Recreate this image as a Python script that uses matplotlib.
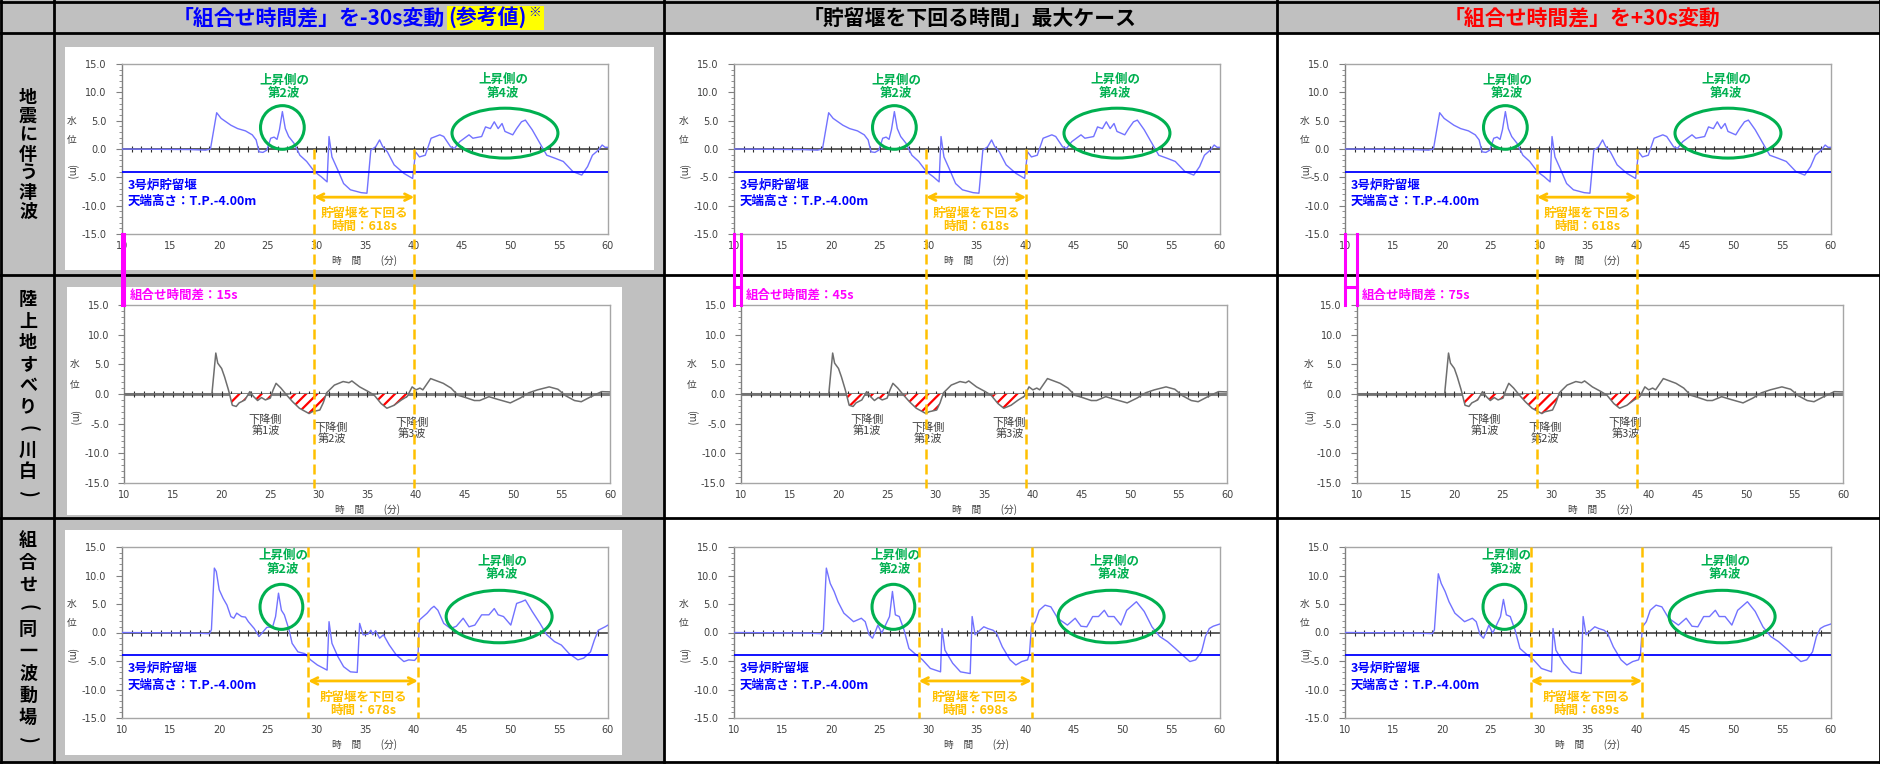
import numpy as np
import matplotlib
matplotlib.use("Agg")
import matplotlib.pyplot as plt
from matplotlib.patches import Ellipse, Rectangle
from matplotlib.transforms import offset_copy, blended_transform_factory

plt.rcParams['font.family'] = ['Noto Sans CJK JP', 'DejaVu Sans']
plt.rcParams['axes.unicode_minus'] = False
plt.rcParams['hatch.color'] = '#FF0000'
plt.rcParams['hatch.linewidth'] = 1.6

# ---------------- data (time in min, water level in m) ----------------
col_titles = ['「組合せ時間差」を-30s変動', '「貯留堰を下回る時間」最大ケース', '「組合せ時間差」を+30s変動']
row_titles = ['地震に伴う津波', '陸上地すべり(川白)', '組合せ(同一波動場)']

# earthquake tsunami (same in every column)
quake_t = [10, 17.0, 18.6, 19.1, 19.74, 20.2, 21.2, 21.9, 22.7, 23.4, 23.8, 24.1, 24.5, 24.9, 25.3, 25.65,
           25.95, 26.2, 26.5, 26.8, 27.15, 27.7, 28.3, 29.0, 29.8, 30.5, 31.1, 31.3, 31.6, 32.2, 32.8, 33.5,
           34.6, 35.2, 35.6, 36.1, 36.5, 36.8, 37.3, 38.0, 39.0, 39.9, 40.2, 40.6, 41.2, 41.8, 42.7, 43.1,
           43.8, 44.2, 44.75, 45.7, 46.1, 47.0, 47.4, 47.9, 48.3, 48.7, 49.1, 49.4, 50.2, 50.6, 51.1, 51.5,
           52.2, 53.0, 53.7, 54.5, 55.4, 56.4, 57.3, 57.9, 58.4, 59.0, 59.4, 59.7, 60]
quake_h = [0, -0.1, -0.2, 0.0, 6.4, 5.4, 4.2, 3.6, 3.2, 2.5, 1.6, -0.5, -0.6, -0.2, 1.9, 2.1,
           1.7, 3.4, 6.6, 3.6, 2.2, 1.0, -1.1, -2.2, -4.0, -4.9, -5.8, 2.2, -1.4, -3.7, -6.1, -7.2,
           -7.7, -7.8, -0.2, 0.4, 1.6, 0.5, -0.5, -2.8, -4.3, -5.2, -0.5, -1.4, -1.1, 1.9, 2.5, 2.2,
           0.4, 0.1, 1.3, 2.5, 1.9, 2.2, 3.9, 3.6, 4.8, 3.6, 4.5, 3.1, 2.5, 3.6, 4.8, 5.1,
           3.4, 1.0, -1.1, -1.6, -2.2, -4.0, -4.6, -3.1, -1.1, -0.2, 0.7, 0.3, 0.3]

# landslide (Kawashiro) tsunami
slide_t = [10, 19.0, 19.4, 19.6, 20.0, 20.3, 20.7, 21.1, 21.5, 21.8, 22.4, 22.9, 23.3, 23.7, 24.1, 24.5,
           25.0, 25.3, 25.6, 26.1, 26.7, 27.3, 28.0, 29.0, 29.3, 30.1, 30.45, 30.8, 31.6, 32.5, 33.1, 33.4,
           34.2, 35.1, 35.7, 36.4, 37.0, 37.75, 38.5, 39.1, 39.6, 40.0, 40.4, 40.7, 41.5, 42.8, 43.6, 44.3,
           45.1, 46.0, 46.55, 47.5, 48.4, 49.7, 50.7, 51.6, 52.5, 53.7, 54.6, 55.4, 56.3, 57.0, 58.0, 59.1, 60]
slide_h = [0, 0, 6.9, 5.2, 4.3, 2.9, 0.7, -1.9, -2.1, -1.5, -1.0, 0.4, -0.45, -1.1, -0.6, -1.0,
           -0.7, 0.7, 1.8, 1.0, -0.2, -1.3, -2.4, -3.3, -3.0, -2.7, -1.5, 0.2, 1.5, 2.1, 1.9, 2.2,
           1.2, 0.4, -0.2, -1.6, -2.4, -1.9, -1.0, -0.4, 1.2, 0.7, 1.0, 0.7, 2.6, 1.8, 1.0, -0.2,
           -0.6, -1.1, -1.1, -0.45, -0.9, -1.5, -0.7, 0.2, 0.7, 1.2, 0.8, -0.3, -1.1, -1.3, -0.45, 0.4, 0.35]
slide_waves = [(21.0, 25.2), (27.0, 30.8), (35.9, 39.2)]

# combined wave field, one run per time lag case
comb_a_t = [10, 17.5, 19.0, 19.2, 19.5, 19.7, 20.0, 20.4, 20.8, 21.2, 21.5, 21.8, 22.3, 22.7, 23.0, 23.6,
            24.1, 24.5, 24.9, 25.5, 25.8, 26.1, 26.4, 26.7, 27.2, 27.5, 28.1, 28.8, 29.4, 30.1, 31.1, 31.3,
            31.6, 32.2, 32.8, 33.5, 34.2, 34.45, 34.8, 35.3, 35.6, 35.8, 36.1, 36.5, 36.9, 37.5, 38.2, 39.0,
            39.5, 40.1, 40.45, 40.6, 41.0, 41.4, 41.8, 42.1, 42.5, 43.1, 43.8, 44.4, 45.1, 45.7, 46.3, 47.0,
            47.75, 48.3, 48.7, 49.25, 50.0, 50.6, 51.1, 51.5, 52.2, 53.0, 53.7, 54.5, 55.2, 56.0, 56.9, 57.5,
            58.2, 58.6, 59.0, 59.7, 60]
comb_a_h = [0, -0.1, -0.2, 0.5, 11.3, 10.7, 7.5, 6.0, 4.8, 2.8, 2.5, 3.4, 2.8, 2.7, 1.9, 0.7,
            -0.7, 0.1, 0.9, 1.0, 2.8, 6.9, 3.9, 3.1, 0.4, -1.9, -3.4, -3.7, -4.8, -5.7, -6.6, 1.9,
            -1.9, -4.2, -6.0, -6.9, -7.0, 1.6, -0.4, -0.3, 0.4, -0.4, 0.3, -1.0, -0.4, -2.2, -3.9, -5.1,
            -4.8, -4.9, -4.2, 2.2, 2.8, 3.4, 4.2, 4.6, 3.9, 1.6, 0.7, 1.1, 2.5, 1.0, 1.3, 3.1,
            3.1, 4.2, 3.1, 2.8, 1.3, 5.1, 5.4, 5.7, 3.7, 1.6, -0.4, -1.6, -2.2, -3.7, -4.8, -4.5,
            -3.4, -1.3, 0.4, 1.0, 1.3]

comb_b_t = [10, 17.5, 19.0, 19.2, 19.5, 19.9, 20.3, 20.7, 21.3, 21.9, 22.3, 22.7, 23.1, 23.5, 23.9, 24.25,
            24.6, 24.8, 25.2, 26.0, 26.3, 26.6, 27.0, 27.5, 28.0, 28.6, 29.4, 30.2, 30.9, 31.25, 31.4, 31.7,
            32.5, 33.3, 34.3, 34.5, 34.8, 35.3, 35.7, 36.1, 36.65, 37.0, 37.6, 38.4, 39.0, 39.6, 40.2, 40.4,
            40.6, 41.0, 41.4, 42.0, 42.6, 43.3, 44.3, 45.1, 45.7, 46.3, 46.9, 47.5, 48.1, 48.5, 49.1, 49.8,
            50.4, 51.0, 51.4, 52.2, 53.0, 53.8, 54.6, 55.4, 56.1, 56.9, 57.5, 58.1, 58.5, 58.9, 59.3, 60]
comb_b_h = [0, -0.1, -0.2, 0.5, 11.3, 8.6, 7.2, 5.4, 3.4, 2.5, 1.9, 2.2, 2.5, 1.9, -0.4, -1.0,
            0.4, 1.3, -0.1, 2.8, 7.2, 3.1, 2.8, 0.4, -2.8, -3.7, -4.8, -6.3, -6.7, -6.9, 0.7, -3.1,
            -5.4, -6.9, -7.2, 2.8, -0.4, 0.4, 1.0, 0.7, 0.4, -0.1, -2.5, -4.8, -5.7, -5.1, -4.8, -3.7,
            1.0, 1.9, 3.9, 4.8, 4.5, 2.5, 1.3, 2.5, 1.1, 1.0, 2.8, 2.8, 3.9, 2.8, 2.8, 1.3,
            3.9, 4.8, 5.4, 3.7, 1.0, -0.7, -1.6, -2.8, -3.9, -5.1, -4.8, -3.4, -0.7, 0.7, 1.1, 1.5]

comb_c_t = [10, 17.5, 19.0, 19.2, 19.6, 19.9, 20.3, 20.7, 21.3, 21.9, 22.3, 22.7, 23.1, 23.5, 23.9, 24.25,
            24.6, 24.8, 25.2, 26.0, 26.3, 26.6, 27.0, 27.5, 28.0, 28.6, 29.4, 30.2, 30.9, 31.25, 31.4, 31.7,
            32.5, 33.3, 34.3, 34.5, 34.8, 35.3, 35.7, 36.1, 36.65, 37.0, 37.6, 38.4, 39.0, 39.6, 40.2, 40.4,
            40.6, 41.0, 41.4, 42.0, 42.6, 43.3, 44.3, 45.1, 45.7, 46.3, 46.9, 47.5, 48.1, 48.5, 49.1, 49.8,
            50.4, 51.0, 51.4, 52.2, 53.0, 53.8, 54.6, 55.4, 56.1, 56.9, 57.5, 58.1, 58.5, 58.9, 59.3, 60]
comb_c_h = [0, -0.1, -0.2, 0.5, 10.3, 8.6, 7.2, 5.4, 3.4, 2.5, 1.9, 2.2, 2.5, 1.9, -0.4, -1.0,
            0.4, 1.3, -0.1, 2.8, 5.8, 3.1, 2.8, 0.4, -2.8, -3.7, -4.8, -6.3, -6.7, -6.9, 0.7, -3.1,
            -5.4, -6.9, -7.2, 2.8, -0.4, 0.4, 1.0, 0.7, 0.4, -0.1, -2.5, -4.8, -5.7, -5.1, -4.8, -3.7,
            1.0, 1.9, 3.9, 4.8, 4.5, 2.5, 1.3, 2.5, 1.1, 1.0, 2.8, 2.8, 3.9, 2.8, 2.8, 1.3,
            3.9, 4.8, 5.4, 3.7, 1.0, -0.7, -1.6, -2.8, -3.9, -5.1, -4.8, -3.4, -0.7, 0.7, 1.1, 1.5]

comb_series = [(comb_a_t, comb_a_h), (comb_b_t, comb_b_h), (comb_c_t, comb_c_h)]

lag_sec = [15, 45, 75]                 # 組合せ時間差
quake_start = 29.77                   # level first drops below the weir crest
quake_below_sec = 618
comb_start = [29.15, 29.0, 29.1]
comb_below_sec = [678, 698, 689]
weir_crest = -4.0                     # T.P.-4.00m

# ---------------- styling ----------------
W, H = 1881, 764
GRAY = '#C0C0C0'
LINE_BLUE = '#7272FF'
ORANGE = '#FFC000'
GREEN = '#00B050'
MAGENTA = '#FF00FF'
TXT = '#404040'

COL_LEFT = [122, 734, 1345]
AX_W = 486
ROW1 = (64, 234)
ROW2 = (305, 483)
ROW3 = (547, 718)
PX_PER_M1 = (ROW1[1] - ROW1[0]) / 30.0

fig = plt.figure(figsize=(W / 100, H / 100), dpi=100)
renderer = fig.canvas.get_renderer()

bg = fig.add_axes([0, 0, 1, 1])
bg.set_xlim(0, W)
bg.set_ylim(H, 0)
bg.axis('off')
bg.set_zorder(-1)

bg.add_patch(Rectangle((0, 0), W, 33, fc=GRAY, ec='none'))
bg.add_patch(Rectangle((0, 0), 54, H, fc=GRAY, ec='none'))
bg.add_patch(Rectangle((54, 33), 610, H - 33, fc=GRAY, ec='none'))
for x0, y0, x1, y1 in [(65, 47, 654, 270), (67, 287, 622, 515), (65, 530, 622, 755)]:
    bg.add_patch(Rectangle((x0, y0), x1 - x0, y1 - y0, fc='white', ec='none'))
for y in [2, 33, 275, 518, 762]:
    bg.plot([0, W], [y, y], color='black', lw=2)
for x in [1, 54, 664, 1277, 1880]:
    bg.plot([x, x], [0, H], color='black', lw=2)

# column headers; the first one is built from three pieces and centred as a group
h_main = bg.text(0, 18, col_titles[0], color='#0000FF', fontsize=15, fontweight='bold', ha='left', va='center')
h_box = bg.text(0, 18, '(参考値)', color='#0000FF', fontsize=15, fontweight='bold', ha='left', va='center')
h_note = bg.text(0, 12, '※', color='#0000FF', fontsize=9, fontweight='bold', ha='left', va='center')
w_main = h_main.get_window_extent(renderer).width
w_box = h_box.get_window_extent(renderer).width
w_note = h_note.get_window_extent(renderer).width
x_start = 359 - (w_main + 4 + w_box + w_note + 6) / 2
h_main.set_x(x_start)
h_box.set_x(x_start + w_main + 4)
h_note.set_x(x_start + w_main + 4 + w_box + 1)
bg.add_patch(Rectangle((x_start + w_main + 2, 6), w_box + w_note + 6, 24, fc='#FFFF00', ec='none', zorder=1.5))
bg.text(970, 18, col_titles[1], color='black', fontsize=15, fontweight='bold', ha='center', va='center')
bg.text(1582, 18, col_titles[2], color='#FF0000', fontsize=15, fontweight='bold', ha='center', va='center')

# row headers, written vertically
for (y0, y1), label, pitch in zip([(33, 275), (275, 518), (518, 762)], row_titles, [19, 21.5, 22]):
    n = len(label)
    yc = (y0 + y1) / 2
    for i, ch in enumerate(label):
        rot = -90 if ch in '()' else 0
        bg.text(28, yc + (i - (n - 1) / 2) * pitch, ch, fontsize=13, fontweight='bold',
                ha='center', va='center', rotation=rot)


def add_ax(x0, y0, x1, y1):
    return fig.add_axes([x0 / W, 1 - y1 / H, (x1 - x0) / W, (y1 - y0) / H])


def base_style(ax, zero_color, zero_lw, ylab_off):
    ax.set_xlim(10, 60)
    ax.set_ylim(-15, 15)
    for s in ax.spines.values():
        s.set_color('#A6A6A6')
        s.set_linewidth(1.0)
    ax.spines['left'].set_color('#808080')
    yt = np.arange(-15, 16, 5)
    ax.set_xticks(np.arange(10, 61, 5))
    ax.set_yticks(yt)
    ax.set_yticklabels([f'{v:.1f}' for v in yt])
    ax.set_yticks(np.arange(-15, 16, 1), minor=True)
    ax.tick_params(axis='x', which='both', length=0, pad=5, labelsize=7, labelcolor=TXT)
    ax.tick_params(axis='y', which='major', length=4, width=0.8, color='#808080', pad=7,
                   labelsize=7, labelcolor=TXT)
    ax.tick_params(axis='y', which='minor', length=2, width=0.6, color='#808080')
    for lab in ax.get_xticklabels() + ax.get_yticklabels():
        lab.set_family('DejaVu Sans')
    ax.axhline(0, color=zero_color, lw=zero_lw, zorder=2)
    minutes = np.arange(11, 60)
    ax.plot(minutes, np.zeros(len(minutes)), ls='none', marker='|', ms=5, mew=0.8,
            color='#303030', zorder=2)
    tr = offset_copy(blended_transform_factory(ax.transAxes, ax.transData), fig=fig,
                     x=-ylab_off, y=0, units='dots')
    ax.text(0, 5.0, '水', transform=tr, fontsize=7, color=TXT, ha='center', va='center')
    ax.text(0, 1.6, '位', transform=tr, fontsize=7, color=TXT, ha='center', va='center')
    ax.text(0, -4.0, '(m)', transform=tr, fontsize=7, color=TXT, ha='center', va='center', rotation=-90)
    ax.text(0.5, 0, '時　間　　(分)', transform=offset_copy(ax.transAxes, fig=fig, x=0, y=-27, units='dots'),
            fontsize=7, color=TXT, ha='center', va='center')


def rising_notes(ax, circle2, circle4, text2_y, text4_x, text4_y):
    ax.add_patch(Ellipse(circle2[:2], circle2[2], circle2[3], fill=False, ec=GREEN, lw=2.2, zorder=4))
    ax.add_patch(Ellipse(circle4[:2], circle4[2], circle4[3], fill=False, ec=GREEN, lw=2.2, zorder=4))
    ax.text(circle2[0] + 0.2, text2_y, '上昇側の\n第2波', color=GREEN, fontsize=9, fontweight='bold',
            ha='center', va='center', linespacing=1.05, zorder=5)
    ax.text(text4_x, text4_y, '上昇側の\n第4波', color=GREEN, fontsize=9, fontweight='bold',
            ha='center', va='center', linespacing=1.05, zorder=5)


def weir_notes(ax, t0, below_sec, y_top, y_bot, arrow_y):
    t1 = t0 + below_sec / 60.0
    for t in (t0, t1):
        ax.plot([t, t], [y_top, y_bot], color=ORANGE, lw=1.8, ls=(0, (4, 2)), clip_on=False, zorder=6)
    ax.annotate('', xy=(t1, arrow_y), xytext=(t0, arrow_y),
                arrowprops=dict(arrowstyle='<->', color=ORANGE, lw=2.0, shrinkA=0, shrinkB=0,
                                mutation_scale=12), zorder=6)
    ax.text((t0 + t1) / 2, arrow_y - 4.0, f'貯留堰を下回る\n時間：{below_sec}s', color=ORANGE, fontsize=9,
            fontweight='bold', ha='center', va='center', linespacing=1.05, zorder=6)
    ax.axhline(weir_crest, color='#0000FF', lw=1.3, zorder=3)
    ax.text(10.6, -6.3, '3号炉貯留堰', color='#0000FF', fontsize=9, fontweight='bold', ha='left', va='center')
    ax.text(10.6, -9.2, '天端高さ：T.P.-4.00m', color='#0000FF', fontsize=9, fontweight='bold',
            ha='left', va='center')


# y (row-1 data units) where the dashed guides and lag marks end inside row 2
guide_bot = -15 - (ROW2[1] + 5 - ROW1[1]) / PX_PER_M1
lag_bot = -15 - (ROW2[0] - ROW1[1]) / PX_PER_M1
lag_mid = -15 - (287 - ROW1[1]) / PX_PER_M1

slide_labels = [[24.5, 31.3, 39.6], [22.9, 29.2, 37.6], [23.1, 29.3, 37.6]]
ylab_offsets = [50, 50, 40]

for c in range(3):
    left = COL_LEFT[c]
    lag_min = lag_sec[c] / 60.0
    shift_px = lag_min * AX_W / 50.0

    # --- row 1: earthquake tsunami ---
    ax1 = add_ax(left, ROW1[0], left + AX_W, ROW1[1])
    ax1.set_zorder(3)
    base_style(ax1, '#303030', 1.1, ylab_offsets[c])
    ax1.plot(quake_t, quake_h, color=LINE_BLUE, lw=1.0, zorder=3)
    rising_notes(ax1, (26.5, 3.8, 4.5, 7.7), (49.4, 2.8, 10.9, 8.8), 10.9, 49.2, 11.0)
    weir_notes(ax1, quake_start, quake_below_sec, 0, guide_bot, -8.5)
    # lag marker between the two time axes
    for t in (10, 10 + lag_min):
        ax1.plot([t, t], [-15, lag_bot], color=MAGENTA, lw=2.2, clip_on=False, zorder=7)
    ax1.plot([10, 10 + lag_min], [lag_mid, lag_mid], color=MAGENTA, lw=2.2, clip_on=False, zorder=7)

    # --- row 2: landslide tsunami ---
    ax2 = add_ax(left + shift_px, ROW2[0], left + shift_px + AX_W, ROW2[1])
    ax2.set_zorder(1)
    base_style(ax2, '#808080', 2.2, ylab_offsets[c] if c < 2 else 49)
    st = np.array(slide_t)
    sh = np.array(slide_h)
    for a, b in slide_waves:
        ax2.fill_between(st, sh, 0, where=(st >= a) & (st <= b) & (sh <= 0), interpolate=True,
                         facecolor='white', edgecolor='#FF0000', hatch='///', lw=0, zorder=2)
    ax2.plot(slide_t, slide_h, color='#6E6E6E', lw=1.1, zorder=3)
    for k, tx in enumerate(slide_labels[c]):
        yc = [-5.2, -6.6, -5.8][k]
        ax2.text(tx, yc, f'下降側\n第{k + 1}波', color=TXT, fontsize=8, ha='center', va='center',
                 linespacing=1.05, zorder=5)
    ax2.text(0, 1, f'組合せ時間差：{lag_sec[c]}s', color=MAGENTA, fontsize=9, fontweight='bold',
             ha='left', va='center',
             transform=offset_copy(ax2.transAxes, fig=fig, x=5, y=10, units='dots'))

    # --- row 3: combined wave field ---
    ax3 = add_ax(left, ROW3[0], left + AX_W, ROW3[1])
    ax3.set_zorder(1)
    base_style(ax3, '#303030', 1.1, ylab_offsets[c])
    ct, ch = comb_series[c]
    ax3.plot(ct, ch, color=LINE_BLUE, lw=1.0, zorder=3)
    rising_notes(ax3, (26.4, 4.5, 4.4, 7.9), (48.8, 2.8, 10.9, 9.2), 12.3, 49.1, 11.3)
    weir_notes(ax3, comb_start[c], comb_below_sec[c], 15, -15, -8.5)

fig.savefig('out.png', dpi=100)
